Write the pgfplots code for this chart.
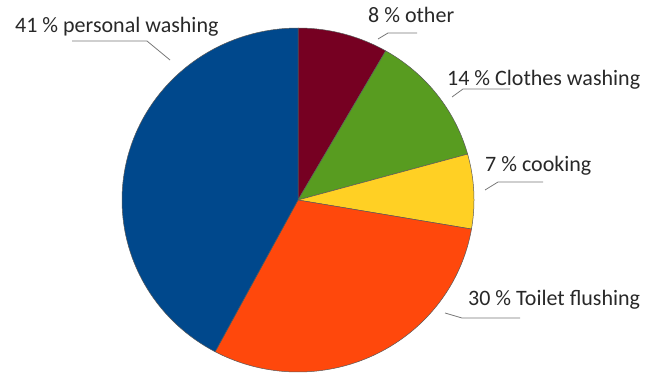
\documentclass[border=0pt]{standalone}
\usepackage{pgfplots}
\pgfplotsset{compat=1.18}
\usepackage{pgfplotstable}
\usepackage{fontspec}
\setmainfont{Carlito}
\definecolor{cother}{RGB}{118,0,34}
\definecolor{cclothes}{RGB}{88,156,32}
\definecolor{ccook}{RGB}{255,208,36}
\definecolor{ctoilet}{RGB}{255,72,12}
\definecolor{cpersonal}{RGB}{0,72,140}
\definecolor{ctext}{RGB}{40,40,40}
\definecolor{cline}{RGB}{120,120,120}
% slice shares as drawn in the picture (percent of the full circle)
\pgfplotstableread{
value color
8.3 cother
12.4 cclothes
7.0 ccook
30.1 ctoilet
42.2 cpersonal
}\piedata
\def\cx{298}\def\cy{200}\def\rx{176}\def\ry{172}
\begin{document}
\begin{tikzpicture}
\begin{axis}[
  width=648bp, height=374bp, scale only axis,
  xmin=0, xmax=648, ymin=0, ymax=374, y dir=reverse,
  hide axis, clip=false,
]
\path (rel axis cs:0,0) rectangle (rel axis cs:1,1);
\pgfmathsetmacro\acc{90}
\pgfplotsforeachungrouped \i in {0,...,4}{%
  \pgfplotstablegetelem{\i}{value}\of\piedata \let\sliceval\pgfplotsretval
  \pgfplotstablegetelem{\i}{color}\of\piedata \let\slicecol\pgfplotsretval
  \pgfmathsetmacro\aend{\acc-3.6*\sliceval}%
  \edef\temp{\noexpand\addplot[fill=\slicecol, draw=black!65, line width=0.5pt, domain=\aend:\acc, samples=80, variable=\noexpand\t] ({\cx+\rx*cos(\noexpand\t)},{\cy-\ry*sin(\noexpand\t)}) -- (axis cs:\cx,\cy) -- cycle;}%
  \temp
  \global\let\acc\aend
}
\begin{scope}[every node/.style={anchor=base west, inner sep=0pt, text=ctext, font=\fontsize{22bp}{26bp}\selectfont}]
\node at (axis cs:15,32) {41 \% personal washing};
\node at (axis cs:368,23) {8 \% other};
\node at (axis cs:447,85) {14 \% Clothes washing};
\node at (axis cs:485,171) {7 \% cooking};
\node at (axis cs:468,305) {30 \% Toilet flushing};
\end{scope}
\begin{scope}[cline, line width=0.8pt]
\draw (axis cs:72,41) -- (axis cs:147,41) -- (axis cs:170,60);
\draw (axis cs:417,33) -- (axis cs:388,33) -- (axis cs:378,39);
\draw (axis cs:510,89) -- (axis cs:463,89) -- (axis cs:452,97);
\draw (axis cs:543,182) -- (axis cs:498,182) -- (axis cs:485,190);
\draw (axis cs:445,313) -- (axis cs:462,318) -- (axis cs:520,318);
\end{scope}
\end{axis}
\end{tikzpicture}
\end{document}
